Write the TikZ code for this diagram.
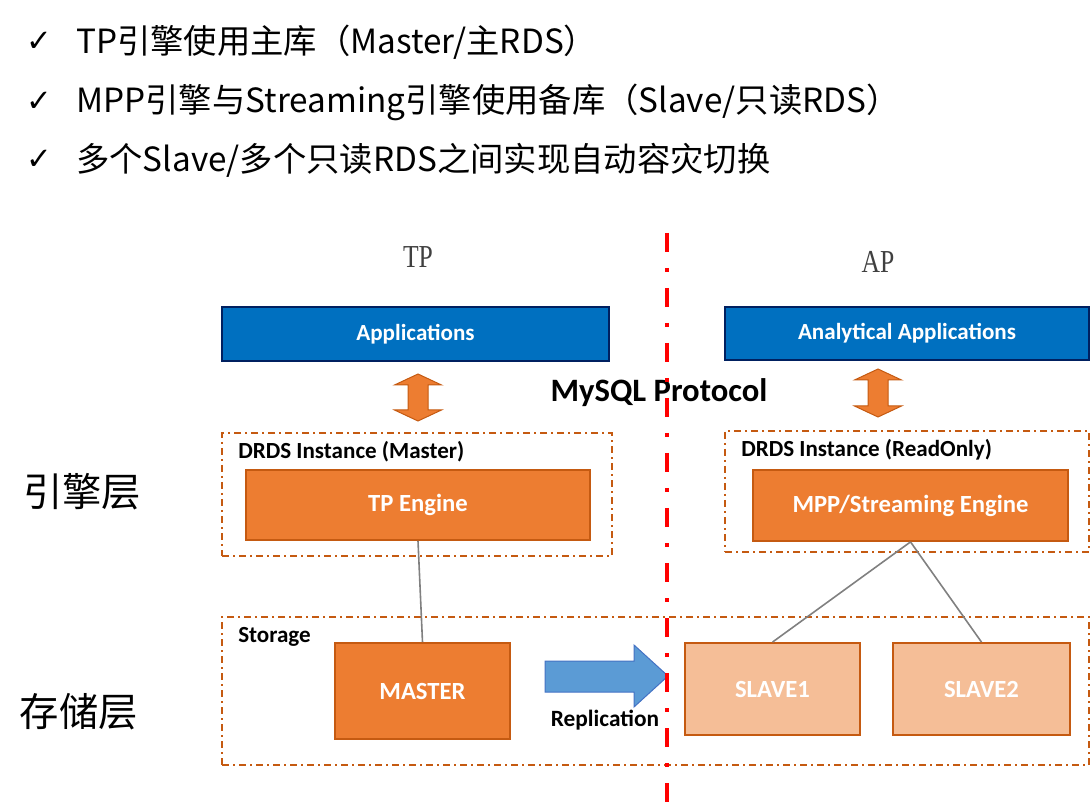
\documentclass[tikz,border=0pt]{standalone}
\usepackage{fontspec}
\setmainfont{Carlito}
\newfontfamily\cjk{Noto Sans CJK SC}
\newfontfamily\symfont{DejaVu Sans}
\newfontfamily\tpfont{Liberation Serif}
\usepackage{tikz}
\usetikzlibrary{calc}

\newdimen\px
\px=0.75pt

\definecolor{appblue}{HTML}{0070C0}
\definecolor{navy}{HTML}{002060}
\definecolor{engorange}{HTML}{ED7D31}
\definecolor{rust}{HTML}{C55A11}
\definecolor{slavefill}{HTML}{F5BE97}
\definecolor{repblue}{HTML}{5B9BD5}
\definecolor{repedge}{HTML}{4472C4}

\tikzset{
  appbox/.style={draw=navy, line width=2\px, fill=appblue, text=white,
    font=\bfseries\fontsize{17.3}{20}\selectfont},
  engbox/.style={draw=rust, line width=1.8\px, fill=engorange, text=white,
    font=\bfseries\fontsize{18.5}{22}\selectfont},
  slavebox/.style={engbox, fill=slavefill},
  instbox/.style={draw=rust, line width=1.6\px,
    dash pattern=on 7\px off 4\px on 2\px off 4\px},
  tag/.style={font=\bfseries\fontsize{17.3}{20}\selectfont, anchor=west, inner sep=0},
  grayline/.style={draw=gray, line width=1.6\px},
  bullet/.style={font=\cjk\fontsize{25}{30}\selectfont, anchor=west, inner sep=0}
}

\begin{document}
\begin{tikzpicture}[x=0.75pt, y=0.75pt]
                \useasboundingbox (0,0) rectangle (1090,-809);
                % top notes
                \foreach \ly/\txt in {42/{TP引擎使用主库（Master/主RDS）},
                    102/{MPP引擎与Streaming引擎使用备库（Slave/只读RDS）},
                    160/{多个Slave/多个只读RDS之间实现自动容灾切换}} {
                  \node [font=\symfont\fontsize{23}{26}\selectfont] at (39,-\ly) {✓};
                  \node [bullet] at (76,-\ly) {\txt};
                }
                % column titles and layer names
                \node [font=\tpfont\fontsize{24}{28}\selectfont, text=black!75] (tp) at (418,-257) {\scalebox{0.8}[1]{TP}};
                \node [font=\tpfont\fontsize{24}{28}\selectfont, text=black!75] (ap) at (878,-262) {\scalebox{0.8}[1]{AP}};
                \node [font=\cjk\fontsize{29.5}{34}\selectfont] (englayer) at (82,-492) {引擎层};
                \node [font=\cjk\fontsize{29.5}{34}\selectfont] (storlayer) at (79,-712) {存储层};
                % frames
                \node [instbox, minimum width=390\px, minimum height=123\px] (drdsm) at (417,-494.5) {};
                \node [instbox, minimum width=364\px, minimum height=121\px] (drdsr) at (907,-491.5) {};
                \node [instbox, minimum width=867\px, minimum height=148\px] (stor) at (655.5,-691) {};
                \node [tag] at (238,-452) {DRDS Instance (Master)};
                \node [tag] at (741,-450) {DRDS Instance (ReadOnly)};
                \node [tag] at (238,-637) {Storage};
                % boxes
                \node [appbox, minimum width=387\px, minimum height=54\px] (apps) at (415.5,-334) {Applications};
                \node [appbox, minimum width=364\px, minimum height=53\px] (aapps) at (907,-333.5) {Analytical Applications};
                \node [engbox, minimum width=344\px, minimum height=70\px] (tpe) at (418,-505) {TP Engine};
                \node [engbox, minimum width=315\px, minimum height=71\px] (mppe) at (910.5,-505.5) {MPP/Streaming Engine};
                \node [engbox, minimum width=175\px, minimum height=96\px] (master) at (422.5,-691) {MASTER};
                \node [slavebox, minimum width=175\px, minimum height=92\px] (slave1) at (772.5,-689) {SLAVE1};
                \node [slavebox, minimum width=177\px, minimum height=92\px] (slave2) at (981.5,-689) {SLAVE2};
                % links
                \draw [grayline] (tpe.south) -- (master.north);
                \draw [grayline] (mppe.south) -- (slave1.north);
                \draw [grayline] (mppe.south) -- (slave2.north);
                % protocol arrows
                \foreach \cx/\ty/\by in {418/374/421, 878/369/417} {
                  \filldraw [fill=engorange, draw=rust, line width=1\px]
                    (\cx,-\ty) -- ++(23.5,-11) -- ++(-13.5,0) -- (\cx+10,-\by+11)
                    -- ++(13.5,0) -- (\cx,-\by) -- ++(-23.5,11) -- ++(13.5,0)
                    -- (\cx-10,-\ty-11) -- ++(-13.5,0) -- cycle;
                }
                \node [font=\bfseries\fontsize{24.5}{28}\selectfont] (proto) at (659,-393) {MySQL Protocol};
                % replication
                \filldraw [fill=repblue, draw=repedge, line width=1\px]
                  (545,-661) -- (634,-661) -- (634,-645) -- (668,-676) -- (634,-707)
                  -- (634,-692) -- (545,-692) -- cycle;
                \node [font=\bfseries\fontsize{17.5}{20}\selectfont] (repl) at (605,-720) {Replication};
                % TP / AP divider
                \coordinate (divtop) at (667,-233);
                \coordinate (divbot) at (667,-805);
                \draw [red, line width=4\px, dash pattern=on 19\px off 16\px on 4\px off 16\px] (divtop) -- (divbot);
            \end{tikzpicture}
\end{document}
